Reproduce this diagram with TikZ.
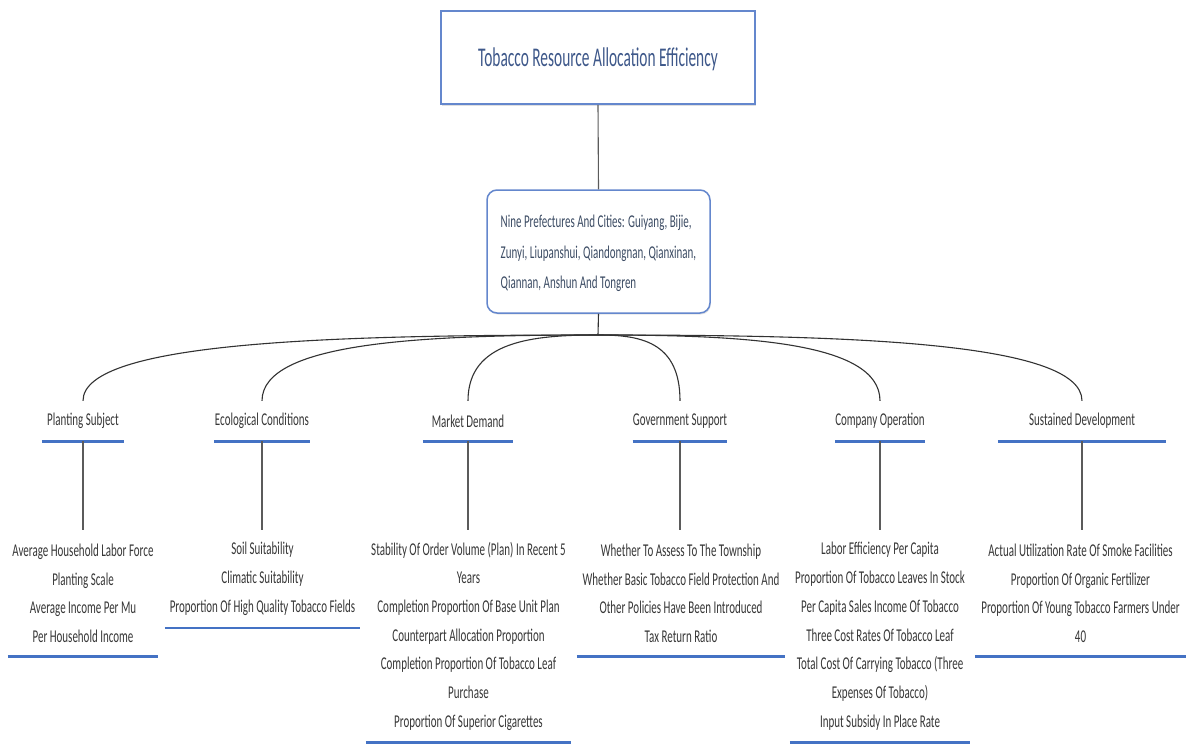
\documentclass[tikz,border=0pt]{standalone}
\usepackage{fontspec}
\setmainfont{Carlito}
\newfontfamily\condf[FakeStretch=0.61]{Carlito}
\newfontfamily\condt[FakeStretch=0.57]{Carlito}
\usetikzlibrary{shadows,calc}
\definecolor{boxblue}{RGB}{100,135,205}
\definecolor{ulblue}{RGB}{68,114,196}
\definecolor{titletxt}{RGB}{62,88,138}
\definecolor{pretxt}{RGB}{60,76,100}
\definecolor{leaftxt}{RGB}{55,55,55}
\definecolor{conn}{RGB}{50,50,50}
\tikzset{
  titlebox/.style={draw=boxblue, line width=1.8pt, fill=white, minimum width=314pt, minimum height=93pt, inner sep=0pt,
    font=\condt\fontsize{27}{30}\selectfont, text=titletxt, drop shadow={shadow xshift=0.8pt, shadow yshift=-1.5pt, opacity=0.25}},
  prebox/.style={draw=boxblue, line width=1.5pt, fill=white, rounded corners=10pt, minimum width=223pt, minimum height=123pt,
    inner sep=0pt, align=left, font=\condf\fontsize{18}{30.5}\selectfont, text=pretxt,
    drop shadow={shadow xshift=0.8pt, shadow yshift=-1.5pt, opacity=0.2}},
  catnode/.style={inner sep=0pt, minimum height=40pt, font=\condf\fontsize{18}{20}\selectfont, text=leaftxt},
  leafnode/.style={inner sep=0pt, anchor=north, align=center, font=\condf\fontsize{18}{28.7}\selectfont, text=leaftxt},
  uline/.style={draw=ulblue, line width=2.6pt},
  link/.style={draw=conn, line width=1.1pt},
}
\begin{document}
\begin{tikzpicture}[x=1pt,y=-1pt]
\useasboundingbox (0,0) rectangle (1186,744);
\fill[white] (0,0) rectangle (1186,744);

\node[titlebox] (top) at (598,57.5) {\raisebox{-9pt}[0pt][0pt]{Tobacco Resource Allocation Efficiency}};
\node[prebox] (pre) at (598.5,251.5) {\raisebox{-5pt}[0pt][0pt]{\begin{tabular}{@{}l@{}}Nine Prefectures And Cities: Guiyang, Bijie,\\Zunyi, Liupanshui, Qiandongnan, Qianxinan,\\Qiannan, Anshun And Tongren\end{tabular}}};
\draw[link, draw=conn!80] (top.south) -- (pre.north);
\coordinate (junc) at (598,335);
\draw[link] (pre.south) -- (junc);

% categories
\node[catnode, minimum width=82pt] (c1) at (83,421) {Planting Subject};
\node[catnode, minimum width=95pt] (c2) at (262,421) {Ecological Conditions};
\node[catnode, minimum width=90pt] (c3) at (468,421) {Market Demand};
\node[catnode, minimum width=90pt] (c4) at (680,421) {Government Support};
\node[catnode, minimum width=88pt] (c5) at (880,421) {Company Operation};
\node[catnode, minimum width=168pt] (c6) at (1082,421) {Sustained Development};
\foreach \c in {c1,c2,c3,c4,c5,c6} {
  \draw[uline] (\c.south west) -- (\c.south east);
  \draw[link] (junc) .. controls ($(junc)!0.5!(\c.north |- junc)$) and ($(\c.north)+(0,-60)$) .. (\c.north);
}

% leaves
\node[leafnode, minimum width=150pt, minimum height=126pt] (l1) at (83,530)
  {Average Household Labor Force\\Planting Scale\\Average Income Per Mu\\Per Household Income};
\node[leafnode, minimum width=195pt, minimum height=97.4pt] (l2) at (262.5,530)
  {Soil Suitability\\Climatic Suitability\\Proportion Of High Quality Tobacco Fields};
\node[leafnode, minimum width=205pt, minimum height=212pt] (l3) at (468.5,530)
  {Stability Of Order Volume (Plan) In Recent 5\\Years\\Completion Proportion Of Base Unit Plan\\Counterpart Allocation Proportion\\Completion Proportion Of Tobacco Leaf\\Purchase\\Proportion Of Superior Cigarettes};
\node[leafnode, minimum width=208pt, minimum height=126pt] (l4) at (681,530)
  {Whether To Assess To The Township\\Whether Basic Tobacco Field Protection And\\Other Policies Have Been Introduced\\Tax Return Ratio};
\node[leafnode, minimum width=180pt, minimum height=212pt] (l5) at (880,530)
  {Labor Efficiency Per Capita\\Proportion Of Tobacco Leaves In Stock\\Per Capita Sales Income Of Tobacco\\Three Cost Rates Of Tobacco Leaf\\Total Cost Of Carrying Tobacco (Three\\Expenses Of Tobacco)\\Input Subsidy In Place Rate};
\node[leafnode, minimum width=211pt, minimum height=126pt] (l6) at (1080.5,530)
  {Actual Utilization Rate Of Smoke Facilities\\Proportion Of Organic Fertilizer\\Proportion Of Young Tobacco Farmers Under\\40};
\foreach \i in {1,...,6} {
  \draw[uline] (l\i.south west) -- (l\i.south east);
  \draw[link, draw=conn!80] (c\i.south) -- (c\i.south |- l\i.north);
}
\end{tikzpicture}
\end{document}
